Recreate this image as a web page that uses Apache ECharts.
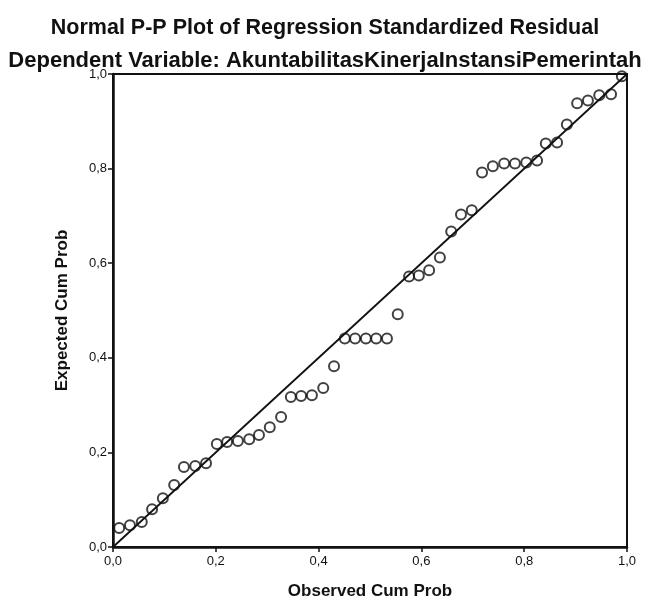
<!DOCTYPE html>
<html>
<head>
<meta charset="utf-8">
<script src="https://cdn.jsdelivr.net/npm/echarts@6/dist/echarts.min.js"></script>
<style>
  html, body { margin: 0; padding: 0; background: #fff; }
  #main { width: 650px; height: 605px; }
</style>
</head>
<body>
<div id="main"></div>
<script>
const observed = [
  0.012, 0.033, 0.056, 0.076, 0.097, 0.119, 0.138, 0.160, 0.181, 0.202,
  0.222, 0.243, 0.265, 0.284, 0.305, 0.327, 0.346, 0.366, 0.387, 0.409,
  0.430, 0.451, 0.471, 0.492, 0.512, 0.533, 0.554, 0.576, 0.595, 0.615,
  0.636, 0.658, 0.677, 0.698, 0.718, 0.739, 0.761, 0.782, 0.804, 0.825,
  0.842, 0.864, 0.883, 0.903, 0.924, 0.946, 0.969, 0.990
];
const expected = [
  0.040, 0.046, 0.053, 0.080, 0.103, 0.131, 0.169, 0.171, 0.177, 0.218,
  0.222, 0.224, 0.228, 0.237, 0.253, 0.275, 0.317, 0.319, 0.321, 0.336,
  0.382, 0.441, 0.441, 0.441, 0.441, 0.441, 0.492, 0.572, 0.574, 0.585,
  0.612, 0.667, 0.703, 0.712, 0.792, 0.805, 0.811, 0.811, 0.813, 0.817,
  0.853, 0.855, 0.893, 0.938, 0.944, 0.955, 0.957, 0.995
];
const refLine = [[0, 0], [1, 1]];

const titleText = 'Normal P-P Plot of Regression Standardized Residual';
const subText = 'Dependent Variable: AkuntabilitasKinerjaInstansiPemerintah';

const font = 'Liberation Sans, Arial, sans-serif';
const fmt = v => v.toFixed(1).replace('.', ',');

const chart = echarts.init(document.getElementById('main'));

const axisCommon = {
  type: 'value',
  min: 0,
  max: 1,
  interval: 0.2,
  axisLine: { show: true, onZero: false, lineStyle: { color: '#111', width: 2.5 } },
  axisTick: { show: true, length: 5, lineStyle: { color: '#111', width: 1.5 } },
  splitLine: { show: false },
  axisLabel: { formatter: fmt, color: '#111', fontFamily: font, fontSize: 13 },
  nameLocation: 'middle',
  nameTextStyle: { color: '#111', fontFamily: font, fontWeight: 'bold', fontSize: 17 }
};

chart.setOption({
  backgroundColor: '#fff',
  animation: false,
  title: [
    {
      text: titleText,
      left: 'center',
      top: 12,
      textStyle: { fontFamily: font, fontWeight: 'bold', fontSize: 21.5, color: '#111' }
    },
    {
      text: subText,
      left: 'center',
      top: 45,
      textStyle: { fontFamily: font, fontWeight: 'bold', fontSize: 22, color: '#111' }
    }
  ],
  grid: {
    left: 113,
    right: 23,
    top: 74,
    bottom: 57,
    show: true,
    borderColor: '#111',
    borderWidth: 2,
    backgroundColor: '#fff'
  },
  xAxis: Object.assign({}, axisCommon, {
    name: 'Observed Cum Prob',
    nameGap: 36,
    axisLabel: Object.assign({}, axisCommon.axisLabel, { margin: 8 })
  }),
  yAxis: Object.assign({}, axisCommon, {
    name: 'Expected Cum Prob',
    nameGap: 42,
    axisLabel: Object.assign({}, axisCommon.axisLabel, { margin: 6 })
  }),
  series: [
    {
      type: 'line',
      data: refLine,
      symbol: 'none',
      lineStyle: { color: '#111', width: 1.8 },
      z: 1
    },
    {
      type: 'scatter',
      data: observed.map((x, i) => [x, expected[i]]),
      symbol: 'circle',
      symbolSize: 10,
      itemStyle: { color: 'rgba(255,255,255,0)', borderColor: '#111', borderWidth: 2 },
      z: 2
    }
  ]
});
</script>
</body>
</html>
